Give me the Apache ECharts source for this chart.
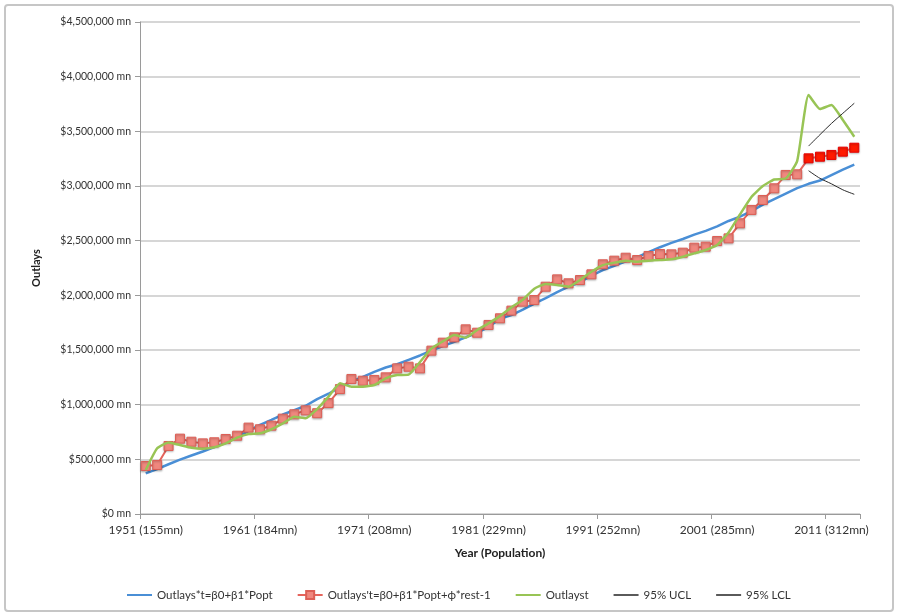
<!DOCTYPE html>
<html>
<head>
<meta charset="utf-8">
<script src="https://cdn.jsdelivr.net/npm/echarts@6/dist/echarts.min.js"></script>
<style>
html,body{margin:0;padding:0;background:#fff;}
#chart{width:899px;height:616px;}
</style>
</head>
<body>
<div id="chart"></div>
<script>
// ---- data ----
const years = ['1951','1952','1953','1954','1955','1956','1957','1958','1959','1960',
  '1961','1962','1963','1964','1965','1966','1967','1968','1969','1970',
  '1971','1972','1973','1974','1975','1976','1977','1978','1979','1980',
  '1981','1982','1983','1984','1985','1986','1987','1988','1989','1990',
  '1991','1992','1993','1994','1995','1996','1997','1998','1999','2000',
  '2001','2002','2003','2004','2005','2006','2007','2008','2009','2010',
  '2011','2012','2013'];
const xTickLabels = ['1951 (155mn)','1961 (184mn)','1971 (208mn)','1981 (229mn)','1991 (252mn)','2001 (285mn)','2011 (312mn)'];

// Outlays*t = b0 + b1*Popt (trend)
const trendOutlays = [372000,410000,455000,497000,535000,572000,612000,650000,700000,760000,
  815000,860000,910000,950000,990000,1050000,1100000,1160000,1210000,1255000,
  1300000,1340000,1370000,1410000,1450000,1495000,1535000,1575000,1615000,1658000,
  1710000,1785000,1820000,1870000,1925000,1975000,2030000,2080000,2120000,2180000,
  2230000,2270000,2310000,2350000,2395000,2440000,2480000,2515000,2555000,2590000,
  2630000,2680000,2720000,2770000,2830000,2880000,2930000,2980000,3020000,3050000,
  3100000,3150000,3195000];

// Outlays't = b0 + b1*Popt + phi*res t-1
const arOutlays = [439000,448000,622000,689000,661000,646000,656000,686000,716000,790000,
  775000,808000,872000,912000,948000,922000,1015000,1143000,1235000,1219000,
  1226000,1250000,1332000,1347000,1332000,1494000,1567000,1616000,1689000,1658000,
  1729000,1790000,1860000,1942000,1957000,2079000,2146000,2110000,2140000,2192000,
  2284000,2317000,2344000,2323000,2360000,2378000,2375000,2390000,2436000,2445000,
  2497000,2521000,2659000,2781000,2872000,2979000,3101000,3107000,3253000,3268000,
  3284000,3314000,3350000];

// Outlayst (actual)
const actualOutlays = [402000,601000,655000,631000,606000,597000,610000,646000,698000,732000,
  738000,775000,829000,890000,875000,960000,1073000,1195000,1165000,1165000,
  1180000,1241000,1271000,1275000,1390000,1515000,1579000,1637000,1613000,1683000,
  1744000,1810000,1890000,1960000,2060000,2104000,2094000,2079000,2140000,2216000,
  2277000,2299000,2317000,2308000,2317000,2323000,2330000,2353000,2384000,2415000,
  2460000,2575000,2740000,2900000,3000000,3060000,3068000,3228000,3832000,3704000,
  3741000,3604000,3451000];

// forecast interval
const forecastYears = ['2009','2010','2011','2012','2013'];
const ucl = [3365000,3470000,3572000,3665000,3757000];
const lcl = [3140000,3070000,3020000,2965000,2924000];

const yTicks = {min:0, max:4500000, step:500000};

// ---- chart ----
const font = "Lato, sans-serif";
const chart = echarts.init(document.getElementById('chart'), null, {renderer:'canvas'});

const forecastStart = years.indexOf(forecastYears[0]);
const redData = arOutlays.map((v, i) => i >= forecastStart ? {
  value: v,
  itemStyle: {color:'#FF1A00', borderColor:'#E80000'}
} : v);

const names = ['Outlays*t=β0+β1*Popt', "Outlays't=β0+β1*Popt+ϕ*rest-1", 'Outlayst', '95% UCL', '95% LCL'];
const noSym = {opacity:0};

chart.setOption({
  animation:false,
  backgroundColor:'#fff',
  graphic:[{
    type:'rect', shape:{x:5,y:5,width:888,height:606,r:3},
    style:{fill:'none', stroke:'#c6c6c6', lineWidth:2}, z:-1
  }],
  grid:{left:140, right:39, top:22, bottom:102},
  legend:{
    data:[
      {name:names[0], itemStyle:noSym},
      {name:names[1]},
      {name:names[2], itemStyle:noSym},
      {name:names[3], itemStyle:noSym, lineStyle:{color:'#5a5a5a', width:2}},
      {name:names[4], itemStyle:noSym, lineStyle:{color:'#5a5a5a', width:2}}
    ],
    left:121, top:584, itemWidth:25, itemHeight:10, itemGap:24,
    textStyle:{fontFamily:font, fontSize:11.5, color:'#333'}
  },
  xAxis:{
    type:'category', data:years, boundaryGap:true,
    name:'Year (Population)', nameLocation:'middle', nameGap:33,
    nameTextStyle:{fontFamily:font, fontSize:12, fontWeight:'bold', color:'#222'},
    axisLine:{lineStyle:{color:'#9a9a9a', width:1}},
    axisTick:{show:true, interval:9, length:5, lineStyle:{color:'#9a9a9a'}},
    axisLabel:{interval:9, margin:10, fontFamily:font, fontSize:12, color:'#333',
      formatter:(v, idx) => (idx % 10 === 0 ? xTickLabels[idx/10] : '')},
    splitLine:{show:false}
  },
  yAxis:{
    type:'value', min:yTicks.min, max:yTicks.max, interval:yTicks.step,
    name:'Outlays', nameLocation:'middle', nameGap:98, nameRotate:90,
    nameTextStyle:{fontFamily:font, fontSize:11, fontWeight:'bold', color:'#222'},
    axisLine:{show:true, lineStyle:{color:'#9a9a9a', width:1}},
    axisTick:{show:true, length:5, lineStyle:{color:'#9a9a9a'}},
    axisLabel:{margin:9, fontFamily:font, fontSize:10.5, color:'#333',
      formatter:v => '$' + v.toLocaleString('en-US') + ' mn'},
    splitLine:{lineStyle:{color:'#c8c8c8', width:1.5}}
  },
  series:[
    {name:names[0], type:'line', data:trendOutlays, symbol:'none',
     lineStyle:{color:'#4A8FD6', width:2.5}, itemStyle:{color:'#4A8FD6'}, z:2},
    {name:names[1], type:'line', data:redData, symbol:'rect', symbolSize:9,
     showSymbol:true, showAllSymbol:true,
     lineStyle:{color:'#E5645C', width:2},
     itemStyle:{color:'#F0877E', borderColor:'#DD5F56', borderWidth:1,
       shadowBlur:2, shadowColor:'rgba(0,0,0,0.25)', shadowOffsetY:1}, z:3},
    {name:names[2], type:'line', data:actualOutlays, symbol:'none', smooth:0.15,
     lineStyle:{color:'#98C455', width:2.5}, itemStyle:{color:'#98C455'}, z:4},
    {name:names[3], type:'line', data:forecastYears.map((y,i)=>[y, ucl[i]]), symbol:'none', smooth:0.3,
     lineStyle:{color:'#2a2a2a', width:1}, itemStyle:{color:'#555'}, z:5},
    {name:names[4], type:'line', data:forecastYears.map((y,i)=>[y, lcl[i]]), symbol:'none', smooth:0.3,
     lineStyle:{color:'#2a2a2a', width:1}, itemStyle:{color:'#555'}, z:5}
  ]
});
</script>
</body>
</html>
